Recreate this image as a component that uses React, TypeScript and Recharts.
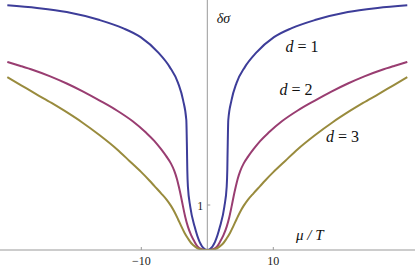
import { LineChart, Line, XAxis, YAxis, ReferenceLine, ReferenceDot } from "recharts";

// d = 1
const muD1 = [-30.3, -25.8, -21.3, -16.3, -12.8, -10.1, -7.38, -5.71, -4.42, -3.67, -3.18, -3.08, -3.03, -2.94, -2.58, -1.92, -1.17, -0.41, 0, 0.41, 1.17, 1.92, 2.58, 2.94, 3.03, 3.08, 3.18, 3.67, 4.42, 5.71, 7.38, 10.1, 12.8, 16.3, 21.3, 25.8, 30.3];
const sigmaD1 = [5.44, 5.38, 5.29, 5.11, 4.93, 4.73, 4.38, 4.07, 3.71, 3.33, 2.89, 2.22, 1.78, 1.41, 0.96, 0.52, 0.18, 0.02, 0, 0.02, 0.18, 0.52, 0.96, 1.41, 1.78, 2.22, 2.89, 3.33, 3.71, 4.07, 4.38, 4.73, 4.93, 5.11, 5.29, 5.38, 5.44];

// d = 2
const muD2 = [-30.3, -28.3, -26.4, -23.8, -21.3, -18.8, -16.3, -13.7, -11.3, -9.3, -8.0, -7.0, -6.2, -5.5, -5.0, -4.6, -4.3, -4.0, -3.7, -3.35, -2.94, -2.45, -1.92, -1.5, -0.86, 0, 0.86, 1.5, 1.92, 2.45, 2.94, 3.35, 3.7, 4.0, 4.3, 4.6, 5.0, 5.5, 6.2, 7.0, 8.0, 9.3, 11.3, 13.7, 16.3, 18.8, 21.3, 23.8, 26.4, 28.3, 30.3];
const sigmaD2 = [4.18, 4.09, 4.0, 3.86, 3.7, 3.52, 3.32, 3.1, 2.86, 2.61, 2.42, 2.24, 2.08, 1.92, 1.76, 1.58, 1.4, 1.2, 0.98, 0.74, 0.52, 0.33, 0.18, 0.08, 0.02, 0, 0.02, 0.08, 0.18, 0.33, 0.52, 0.74, 0.98, 1.2, 1.4, 1.58, 1.76, 1.92, 2.08, 2.24, 2.42, 2.61, 2.86, 3.1, 3.32, 3.52, 3.7, 3.86, 4.0, 4.09, 4.18];

// d = 3
const muD3 = [-30.3, -28.2, -26.0, -23.6, -21.6, -19.0, -16.3, -13.7, -11.8, -10.0, -8.74, -8.0, -7.0, -6.17, -5.5, -4.95, -4.45, -3.95, -3.44, -2.9, -2.42, -1.8, -1.17, -0.6, 0, 0.6, 1.17, 1.8, 2.42, 2.9, 3.44, 3.95, 4.45, 4.95, 5.5, 6.17, 7.0, 8.0, 8.74, 10.0, 11.8, 13.7, 16.3, 19.0, 21.6, 23.6, 26.0, 28.2, 30.3];
const sigmaD3 = [3.84, 3.66, 3.47, 3.27, 3.09, 2.84, 2.55, 2.24, 1.98, 1.73, 1.54, 1.42, 1.26, 1.12, 0.98, 0.84, 0.69, 0.53, 0.38, 0.25, 0.15, 0.07, 0.02, 0.005, 0, 0.005, 0.02, 0.07, 0.15, 0.25, 0.38, 0.53, 0.69, 0.84, 0.98, 1.12, 1.26, 1.42, 1.54, 1.73, 1.98, 2.24, 2.55, 2.84, 3.09, 3.27, 3.47, 3.66, 3.84];

const xTicks = [-10, 10];
const yTicks = [1];
const dValues = ["1", "2", "3"];

const colors = ["#3d3d99", "#993d71", "#998b3d"];
const axisColor = "#999";
const serif = "'Liberation Serif', 'Times New Roman', serif";

// where the d = n labels start (data coordinates)
const labelSpots = [
  { x: 11.85, y: 4.41 },
  { x: 10.94, y: 3.44 },
  { x: 17.98, y: 2.41 },
];

const toPoints = (xs: number[], ys: number[]) => xs.map((x, i) => ({ x, y: ys[i] }));

const XTick = (props: any) => {
  const { x, y, payload } = props;
  const v = payload.value;
  return (
    <g>
      <line x1={x} y1={y} x2={x} y2={y - 3} stroke={axisColor} />
      <text x={x} y={y + 15} textAnchor="middle" fontFamily={serif} fontSize={12} fill="#222">
        {v < 0 ? `\u2212${-v}` : v}
      </text>
    </g>
  );
};

export default function App() {
  const series = [toPoints(muD1, sigmaD1), toPoints(muD2, sigmaD2), toPoints(muD3, sigmaD3)];

  return (
    <div style={{ position: "absolute", left: 0, top: 0, background: "#fff" }}>
      <LineChart width={415} height={268} margin={{ top: 0, right: 0, bottom: 0, left: 0 }}>
        <XAxis
          type="number"
          dataKey="x"
          domain={[-31.41, 31.47]}
          ticks={xTicks}
          allowDataOverflow
          height={18}
          tickSize={0}
          tickMargin={0}
          tickLine={false}
          axisLine={{ stroke: axisColor }}
          tick={<XTick />}
        />
        <YAxis type="number" dataKey="y" domain={[0, 5.556]} allowDataOverflow hide />
        <ReferenceLine x={0} stroke={axisColor} />
        {yTicks.map((t) => (
          <ReferenceLine key={"yt" + t} segment={[{ x: 0, y: t }, { x: 0.45, y: t }]} stroke={axisColor} />
        ))}
        {yTicks.map((t) => (
          <ReferenceDot
            key={"yl" + t}
            x={0}
            y={t}
            r={0}
            fill="none"
            stroke="none"
            ifOverflow="visible"
            label={{
              content: (p: any) => (
                <text x={p.viewBox.x - 4} y={p.viewBox.y + 5} textAnchor="end" fontFamily={serif} fontSize={12} fill="#222">
                  {t}
                </text>
              ),
            }}
          />
        ))}
        {series.map((data, i) => (
          <Line
            key={i}
            data={data}
            dataKey="y"
            type="monotone"
            stroke={colors[i]}
            strokeWidth={2}
            dot={false}
            activeDot={false}
            isAnimationActive={false}
          />
        ))}
        {dValues.map((d, i) => (
          <ReferenceDot
            key={"d" + d}
            x={labelSpots[i].x}
            y={labelSpots[i].y}
            r={0}
            fill="none"
            stroke="none"
            ifOverflow="visible"
            label={{
              content: (p: any) => (
                <text x={p.viewBox.x} y={p.viewBox.y} fontFamily={serif} fontSize={16} fill="#111">
                  <tspan fontStyle="italic">d</tspan>
                  <tspan> = {d}</tspan>
                </text>
              ),
            }}
          />
        ))}
        <ReferenceDot
          x={13.44}
          y={0.23}
          r={0}
          fill="none"
          stroke="none"
          ifOverflow="visible"
          label={{
            content: (p: any) => (
              <text x={p.viewBox.x} y={p.viewBox.y} fontFamily={serif} fontSize={15} fontStyle="italic" fill="#111">
                μ / T
              </text>
            ),
          }}
        />
        <ReferenceDot
          x={1.42}
          y={5.04}
          r={0}
          fill="none"
          stroke="none"
          ifOverflow="visible"
          label={{
            content: (p: any) => (
              <text x={p.viewBox.x} y={p.viewBox.y} fontFamily={serif} fontSize={14} fontStyle="italic" fill="#111">
                δσ
              </text>
            ),
          }}
        />
      </LineChart>
    </div>
  );
}
